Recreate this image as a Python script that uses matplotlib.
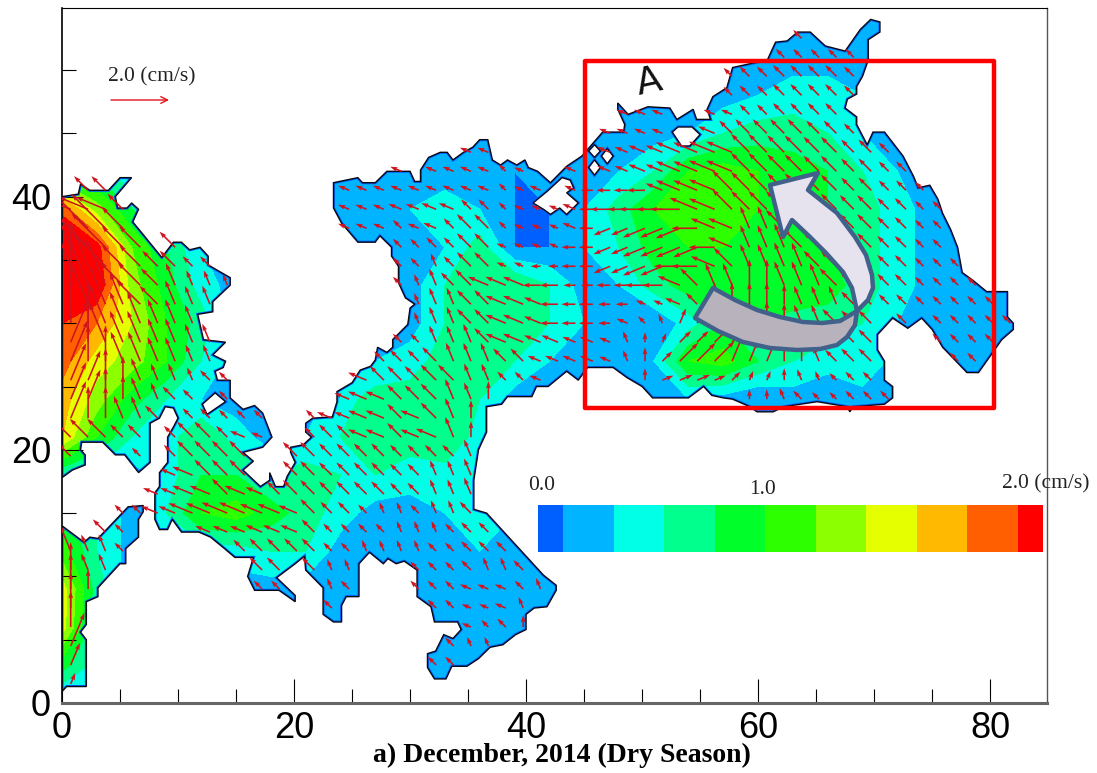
import numpy as np
import matplotlib
matplotlib.use("Agg")
import matplotlib.pyplot as plt
from matplotlib.colors import ListedColormap, BoundaryNorm
from matplotlib.patches import PathPatch, Polygon, Rectangle
from matplotlib.path import Path
from matplotlib.ticker import MultipleLocator

plt.rcParams["font.family"] = ["Liberation Sans", "DejaVu Sans"]

# domain outline, x / y in grid units
main_x = [23.4,25.5,25.9,27.0,28.0,30.0,30.4,30.9,30.9,31.6,32.6,33.2,33.7,34.6,35.4,36.0,36.7,37.1,37.8,38.4,39.2,39.9,40.2,41.0,42.1,43.5,44.8,46.6,48.4,48.5,47.9,47.9,48.8,50.5,52.4,53.0,54.4,54.7,55.9,55.6,56.1,57.3,57.8,60.8,61.5,62.5,63.4,64.5,65.8,67.5,68.8,69.7,70.5,70.5,69.5,69.5,69.0,68.5,68.5,67.7,67.5,68.5,68.5,69.4,69.9,70.9,72.5,73.4,73.8,74.8,75.5,75.9,76.6,77.2,77.6,78.5,79.7,81.5,81.5,82.0,82.0,81.0,80.0,79.0,78.0,75.9,75.0,74.1,72.9,71.6,70.3,70.3,70.9,70.9,71.6,71.6,70.9,68.2,67.9,67.7,65.1,62.2,61.3,59.9,59.3,57.8,57.0,56.0,55.3,54.0,50.9,50.0,48.7,47.5,45.3,44.5,43.5,41.9,40.9,40.5,38.4,37.9,36.6,36.6,35.9,35.5,35.5,36.6,41.5,42.6,42.6,41.8,40.7,40.0,40.0,39.1,38.0,36.9,35.9,34.9,33.6,33.1,32.1,31.5,31.5,32.2,32.9,33.7,34.4,34.1,32.1,31.8,30.6,30.6,29.5,28.8,28.1,27.7,26.5,25.6,25.6,24.5,24.1,24.1,23.4,22.5,22.5,21.0,20.9,20.1,18.5,20.1,20.1,18.7,16.6,16.0,16.5,14.9,14.0,12.8,11.8,10.3,9.5,9.1,8.4,8.0,8.0,8.4,8.4,9.1,9.1,9.6,10.0,9.6,8.9,8.4,7.6,7.6,6.6,5.4,4.6,3.5,1.7,1.6,2.0,2.0,0.9,0.0,0.0,1.4,1.6,2.4,4.0,5.0,6.0,4.6,4.8,5.6,6.0,6.6,6.1,7.0,8.6,9.6,10.3,11.0,11.9,12.6,12.6,14.5,14.5,13.0,13.0,11.7,12.2,14.1,13.0,14.1,13.9,13.2,13.4,14.5,14.5,15.6,16.6,17.3,18.1,17.3,15.6,16.5,15.6,17.1,17.9,17.9,18.4,19.1,19.4,20.1,19.7,19.7,20.8,21.5,21.0,21.0,21.6,23.3,23.7,23.7,25.0,25.7,26.6,27.0,27.2,28.0,28.5,28.5,29.8,30.0,30.4,29.6,29.0,29.0,28.4,28.4,27.4,27.0,25.5,24.1,23.4]
main_y = [41.1,41.5,41.1,41.1,42.0,42.0,41.2,41.2,42.1,43.1,43.5,43.5,42.9,43.5,43.9,44.5,44.5,42.9,42.5,42.9,42.5,42.9,42.3,42.0,41.1,42.4,43.2,45.1,45.1,45.7,46.9,47.4,46.5,47.1,47.0,46.1,46.9,46.1,46.1,46.9,47.9,48.6,50.2,50.8,52.2,52.3,53.0,53.0,51.9,51.5,53.2,54.0,53.8,53.0,52.4,50.8,49.5,48.7,48.1,47.7,47.0,46.3,45.7,44.1,45.1,45.1,43.2,41.6,40.7,40.9,39.8,38.7,37.4,36.0,34.0,33.4,32.5,32.5,30.5,30.0,29.5,28.7,27.4,26.1,26.1,28.1,29.5,30.4,29.6,30.4,29.1,27.9,27.0,25.5,25.0,24.1,23.6,23.4,23.0,23.4,23.8,23.4,23.0,23.0,23.4,24.0,24.1,24.3,25.0,24.1,24.1,25.0,25.7,26.5,26.5,25.5,26.2,25.0,25.0,24.2,24.2,23.6,23.4,21.4,20.0,17.6,15.3,15.0,10.1,9.3,8.9,7.6,7.5,7.0,5.8,5.4,4.6,4.4,3.5,2.9,2.9,1.9,1.9,2.8,3.9,4.1,5.4,5.1,5.8,6.4,6.4,7.6,8.4,10.5,11.2,11.0,11.4,11.0,11.9,11.0,8.4,8.4,7.7,6.4,6.4,7.0,9.1,10.5,11.6,11.0,9.9,8.5,8.0,8.9,8.9,10.0,11.5,11.5,12.2,13.1,13.5,13.5,14.5,13.7,13.7,14.5,16.6,17.1,18.2,19.0,21.0,21.8,22.5,23.3,23.4,22.5,22.1,19.0,18.2,19.6,19.6,20.6,20.6,20.0,19.6,18.8,18.4,17.8,40.0,40.2,41.0,40.5,40.5,41.5,41.5,40.0,39.1,39.1,39.5,39.0,38.0,37.0,35.2,36.4,36.4,35.8,36.0,35.3,34.6,33.6,33.0,31.7,30.9,30.7,28.7,28.5,27.5,27.0,26.5,26.2,25.5,25.5,24.1,23.2,23.5,22.9,21.0,20.2,19.8,19.1,18.4,17.1,17.6,18.2,17.1,17.1,17.9,19.0,19.8,20.2,20.4,21.0,21.4,22.1,22.5,22.6,23.8,24.6,25.3,26.3,26.6,27.1,28.1,27.7,28.1,28.7,29.9,31.2,31.5,32.0,33.2,34.5,35.3,36.0,36.9,36.4,36.4,37.9,39.1]
sw_x = [0.0,1.9,2.4,3.1,5.7,7.0,7.0,6.6,6.6,5.5,5.5,5.0,3.1,3.1,2.1,2.1,1.6,2.1,2.1,0.4,0.0]
sw_y = [14.0,12.7,13.1,13.0,15.5,15.6,15.1,14.5,13.1,12.2,11.0,11.0,9.1,8.4,8.0,6.2,5.6,5.0,1.3,1.3,0.9]

# islands inside the domain
holes = [
    ([40.6,41.8,43.1,43.8,44.1,43.5,44.5,43.5,42.9,42.1,41.5], [39.5,40.4,41.5,41.3,40.7,40.3,39.5,38.6,39.1,38.6,39.0]),
    ([12.1,13.2,14.1,12.5], [23.6,24.5,23.8,22.8]),
    ([45.4,45.9,46.4,45.9], [43.6,44.1,43.6,43.1]),
    ([46.5,47.0,47.5,47.0], [43.2,43.8,43.2,42.6]),
    ([45.4,45.9,46.4,45.9], [42.3,42.9,42.3,41.7]),
    ([52.6,53.1,54.3,55.0,54.1,53.4], [45.1,45.5,45.5,44.9,44.0,44.0]),
]

# velocity magnitude in 0.1 cm/s
speed_x = np.arange(0, 85, 3)
speed_y = np.arange(54, -1, -3)
speed = np.array([
    [2,2,2,2,2,2,2,2,2,2,2,2,2,2,2,2,2,2,2,2,2,2,2,2,2,2,2,2,2],
    [2,2,2,2,2,2,2,2,2,2,2,2,2,2,2,2,2,2,2,2,2,2,2,2,2,2,2,2,2],
    [2,2,2,2,2,2,2,2,2,2,2,2,2,2,2,2,2,2,2,2,3,4,4,3,2,2,2,2,2],
    [2,2,2,2,2,2,2,2,2,2,2,2,2,2,2,2,2,2,3,5,6,6,5,3,2,2,2,2,2],
    [8,6,3,2,2,2,2,2,2,2,2,2,2,1,2,2,3,5,9,10,9,8,7,5,3,2,2,2,2],
    [18,12,7,4,2,2,2,2,2,2,3,4,3,1,1,3,6,9,11,10,9,9,7,6,4,2,2,2,2],
    [24,20,11,7,3,2,2,2,2,2,2,3,6,1,1,3,5,8,9,9,8,9,7,6,4,2,2,2,2],
    [26,21,12,8,4,2,2,2,2,2,2,5,7,7,5,2,3,6,8,8,9,9,8,6,4,2,2,2,2],
    [19,17,13,9,6,2,2,2,2,2,2,5,6,7,5,3,2,1,4,7,7,6,6,5,3,2,2,2,2],
    [18,14,12,9,5,2,2,2,3,3,4,6,6,5,3,3,2,3,9,10,7,5,4,5,2,2,2,2,2],
    [16,12,8,5,3,2,2,2,4,6,6,7,5,2,2,2,1,2,3,2,1,2,1,2,2,2,2,2,2],
    [15,9,5,4,7,4,2,3,5,6,6,7,4,2,2,2,2,2,2,2,2,2,2,2,2,2,2,2,2],
    [5,4,2,4,7,7,5,6,5,5,4,4,5,2,2,2,2,2,2,2,2,2,2,2,2,2,2,2,2],
    [8,5,2,5,9,10,8,6,4,2,2,3,4,3,2,2,2,2,2,2,2,2,2,2,2,2,2,2,2],
    [10,5,2,3,4,4,5,5,2,2,2,2,3,3,2,2,2,2,2,2,2,2,2,2,2,2,2,2,2],
    [14,6,2,2,2,2,2,2,2,2,2,2,2,2,2,2,2,2,2,2,2,2,2,2,2,2,2,2,2],
    [14,5,2,2,2,2,2,2,2,2,2,2,1,2,2,2,2,2,2,2,2,2,2,2,2,2,2,2,2],
    [8,4,2,2,2,2,2,2,2,2,2,2,2,2,2,2,2,2,2,2,2,2,2,2,2,2,2,2,2],
    [2,2,2,2,2,2,2,2,2,2,2,2,2,2,2,2,2,2,2,2,2,2,2,2,2,2,2,2,2],
])

# flow heading per arrow cell: a=E, then 22.5 deg steps anticlockwise (e=N, i=W, m=S)
heading_rows = [
    "ggggg ggggg ggggg ggggg ggggg ggggg ggggg ggggg ggggg ggggg ggggg gg",
    "ggggg ggggg ggggg ggggg ggggg ggggg ggggg ggggg ggggg ggggg ggggg gg",
    "ggggg ggggg ggggg ggggg ggggg ggggg ggggg ggggg ggggg ggggg ggggg gg",
    "ggggg ggggg ggggg ggggg ggggg ggggg ggggg hhggg ggggg ggggg ggggg gg",
    "ggggg ggggg ggggg ggggg ggggg ggggg ggggg hhhgg ggggg ggggg ggggg gg",
    "ggggg ggggg ggggg ggggg ggggg ggggg hhhhh hhhhg ggggg ggggg ggggg gg",
    "ggggg ggggg ggggg ggggg ggggg ggggg hhhhh hhhgg ggggg ggggg ggggg gg",
    "ggggg ggggg ggggg ggggg hhhhh hhhhh hhhhh hhhhg ggggg ggggg ggggg gg",
    "ggggg ggggg ggggg hhhhh hhhhh ghhhh hhhhh hhhhg ggggg ggggg ggggg gg",
    "ggggg ggggg ggggg hhhhh hhhhh ghhhh iiiih hhhgg ggggg ggggg ggggg gg",
    "hhhgg ggggg ggggg hhhhh hhhgg ghhhh iiiii ihhgg ggggg ggggg ggggg gg",
    "ggggg ggggf ggggg hhhhg hhggg ghhhh ijjjj jihhf fgggg ggggg ggggg gg",
    "fgggg ggggf ggggg ggggg ggggg hhhhi ijjjj jjihf ffggg ggggg ggggg gg",
    "ffggg ggggf ggggg ggggg gfggg hhiii ijjjj iihgf fffgg ggggg ggggg gg",
    "effgg gffff ggggg fgggg ffggh hhiii iiiii hgffe efffg ggggg ggggg gg",
    "efffg gffff ggggg fgggg fffgg hhhii iiihh hgeee eefff ggggg ggggg gg",
    "eefff fffff ggggg ggggf fffgg hhhii iihgf ddeee eeffg ggggg ggggg gg",
    "defff fffff ggggg gggfg gfffg hhhhh hhfed ccccd eeefg ggggg ggggg gg",
    "deeff fffff ggggg hhhgg ggfff gghhh hhfec cccdd deefg ggggg ggggg gg",
    "ddeef fffgg ggggg hhhgg gggff gghhh gggeb bbbcd deffg ggggg ggggg gg",
    "ddeef fgggg ggggg hhhhg ggffe ggggg gggge ddeee efggg ggggg ggggg gg",
    "deeff ggggg ggggg hhhhg hgfee ggggg ggggg ggggg ggggg ggggg ggggg gg",
    "ggggg ggggg hhggg gghhg hhfee ggggg ggggg ggggg ggggg ggggg ggggg gg",
    "ggggg hgggg ggggg ggggg gggfe ggggg ggggg ggggg ggggg ggggg ggggg gg",
    "ggggg hhhgg ggggg ggggg gffff ggggg ggggg ggggg ggggg ggggg ggggg gg",
    "ggggg hhhhg hhggg ggggg gfffg ggggg ggggg ggggg ggggg ggggg ggggg gg",
    "ggggg hhhhh hhhhg gggff gffgg ggggg ggggg ggggg ggggg ggggg ggggg gg",
    "gfggg gghhh hhhhg ggggf ffggg ggggg ggggg ggggg ggggg ggggg ggggg gg",
    "fffgg ggggg ggggg ggfff fgggg ggggg ggggg ggggg ggggg ggggg ggggg gg",
    "efffg ggggg ggggg ffffg ggggf fgggg ggggg ggggg ggggg ggggg ggggg gg",
    "eeffg ggggg ggggg fgggg ggghh hgfgg ggggg ggggg ggggg ggggg ggggg gg",
    "eefff ggggg ggggg ggggg ggghh hfeef ggggg ggggg ggggg ggggg ggggg gg",
    "eeeff ggggg ggggg ggggg ggghg geegg ggggg ggggg ggggg ggggg ggggg gg",
    "ddeef ggggg ggggg ggggg gggff fgggg ggggg ggggg ggggg ggggg ggggg gg",
    "ddeee ggggg ggggg ggggg gggfd ggggg ggggg ggggg ggggg ggggg ggggg gg",
    "ddeee ggggg ggggg ggggg ggggg ggggg ggggg ggggg ggggg ggggg ggggg gg",
    "ggggg ggggg ggggg ggggg ggggg ggggg ggggg ggggg ggggg ggggg ggggg gg",
]

band_levels = [-1, 1, 3, 5, 7, 9, 11, 13, 15, 17, 19, 99]
band_colors = ["#0060ff", "#00b4ff", "#00ffe6", "#00ff8c", "#00ff2a", "#2eff00",
               "#8cff00", "#e6ff00", "#ffb900", "#ff5f00", "#ff0000"]
legend_vals = [0, 2, 4, 6, 8, 10, 12, 14, 16, 18, 20]


def ring(xs, ys, ccw=True):
    pts = np.column_stack([xs, ys])
    area = 0.5 * np.sum(pts[:, 0] * np.roll(pts[:, 1], -1) - np.roll(pts[:, 0], -1) * pts[:, 1])
    if (area > 0) != ccw:
        pts = pts[::-1]
    return np.vstack([pts, pts[:1]])


rings = [ring(main_x, main_y), ring(sw_x, sw_y)] + [ring(hx, hy, ccw=False) for hx, hy in holes]
verts, codes = [], []
for r in rings:
    verts.append(r)
    codes += [Path.MOVETO] + [Path.LINETO] * (len(r) - 2) + [Path.CLOSEPOLY]
domain = Path(np.vstack(verts), codes)

fig = plt.figure(figsize=(10.97, 7.73), dpi=100)
ax = fig.add_axes([62 / 1097, 70 / 773, 985 / 1097, 695 / 773])
ax.set_xlim(0, 84.9)
ax.set_ylim(0, 54.9)

clip = PathPatch(domain, transform=ax.transData, fc="none", ec="none")
ax.add_patch(clip)
cs = ax.contourf(speed_x, speed_y, speed, levels=band_levels, colors=band_colors, zorder=1)
cs.set_clip_path(clip)

# darker rim inside the coast, then the coast line
rim = PathPatch(domain, fc="none", ec="#0060ff", lw=2.2, zorder=2)
ax.add_patch(rim)
rim.set_clip_path(clip)
ax.add_patch(PathPatch(domain, fc="none", ec="#0a0a14", lw=1.0, zorder=3))

# arrows
arr_x, arr_y, arr_u, arr_v = [], [], [], []
for j, row in enumerate(heading_rows):
    row = row.replace(" ", "")
    for i, ch in enumerate(row):
        x0 = 0.75 + 1.5 * i
        y0 = 54 - 1.5 * j
        arr_x.append(x0)
        arr_y.append(y0)
        v = speed[int(round((54 - y0) / 3)), min(int(round(x0 / 3)), 28)]
        ang = np.deg2rad((ord(ch) - ord("a")) * 22.5)
        arr_u.append((8 + 2 * v) * np.cos(ang))
        arr_v.append((8 + 2 * v) * np.sin(ang))
arr_x, arr_y, arr_u, arr_v = map(np.array, (arr_x, arr_y, arr_u, arr_v))
inside = np.zeros(len(arr_x), bool)
pts = np.column_stack([arr_x, arr_y])
for r in rings[:2]:
    inside |= Path(r).contains_points(pts)
for r in rings[2:]:
    inside &= ~Path(r).contains_points(pts)
ax.quiver(arr_x[inside], arr_y[inside], arr_u[inside], arr_v[inside],
          angles="uv", scale_units="dots", scale=1, units="dots", width=1.6,
          headwidth=3, headlength=4.5, headaxislength=4, color="#cf1420", zorder=4)

# frame
ax.spines["left"].set(color="black", lw=1.2)
ax.spines["top"].set(color="black", lw=0.8)
ax.spines["right"].set(color="#555555", lw=1.0)
ax.spines["bottom"].set(color="#666666", lw=2.2)
ax.xaxis.set_major_locator(MultipleLocator(20))
ax.xaxis.set_minor_locator(MultipleLocator(5))
ax.yaxis.set_major_locator(MultipleLocator(20))
ax.yaxis.set_minor_locator(MultipleLocator(5))
ax.tick_params(axis="x", which="major", direction="in", length=17, width=0.8, labelsize=26, pad=6)
ax.tick_params(axis="x", which="minor", direction="in", length=10, width=0.8)
ax.tick_params(axis="y", which="major", direction="in", length=15, width=0.8, labelsize=26, pad=8)
ax.tick_params(axis="y", which="minor", direction="in", length=10, width=0.8)

# overlay in picture pixels for the annotations
ov = fig.add_axes([0, 0, 1, 1], facecolor="none")
ov.set_xlim(0, 1097)
ov.set_ylim(773, 0)
ov.axis("off")

serif = ["Liberation Serif", "DejaVu Serif"]
ov.text(108, 77, "2.0 (cm/s)", family=serif, fontsize=15.5, va="center", ha="left", color="#222222")
ov.annotate("", xy=(169, 100), xytext=(111, 100),
            arrowprops=dict(arrowstyle="->", color="#e0141c", lw=1, mutation_scale=12, shrinkA=0, shrinkB=0))
ov.text(542, 485, "0.0", family=serif, fontsize=15.5, va="center", ha="center", color="#222222")
ov.text(763, 490, "1.0", family=serif, fontsize=15.5, va="center", ha="center", color="#222222")
ov.text(1002, 484, "2.0 (cm/s)", family=serif, fontsize=15.5, va="center", ha="left", color="#222222")
ov.text(562, 755, "a) December, 2014 (Dry Season)", family=serif, fontsize=20, weight="bold",
        va="center", ha="center")

# colour legend
cb = fig.add_axes([538 / 1097, (773 - 552) / 773, 505 / 1097, 47 / 773])
cb.pcolormesh([0, 1, 3, 5, 7, 9, 11, 13, 15, 17, 19, 20], [0, 1], np.array([legend_vals]),
              cmap=ListedColormap(band_colors), norm=BoundaryNorm(band_levels, 11))
cb.axis("off")

# region box and hand annotation
ov.add_patch(Rectangle((585, 61), 409, 347, fc="none", ec="#ff0000", lw=3.2, joinstyle="round"))
ov.text(649, 83, "A", family=["DejaVu Sans"], fontsize=27, rotation=12, va="center", ha="center", color="#111111")

tail = [(713,288),(735,300),(757,310),(780,317),(803,322),(822,323),(840,321),(857,311),
        (855,325),(847,337),(837,345),(820,349),(797,350),(770,348),(743,342),(718,331),(695,318)]
head = [(857,311),(868,300),(873,288),(872,275),(866,255),(855,237),(837,213),(808,190),(818,173),
        (770,185),(783,237),(792,220),(810,237),(826,253),(843,272),(852,288),(857,311)]
ov.add_patch(Polygon(tail, closed=True, fc="#b7b2bc", ec="#41618a", lw=3.2, joinstyle="round", zorder=6))
ov.add_patch(Polygon(head, closed=True, fc="#e6e2ee", ec="#41618a", lw=3.2, joinstyle="round", zorder=6))

fig.savefig("out.png", dpi=100)
